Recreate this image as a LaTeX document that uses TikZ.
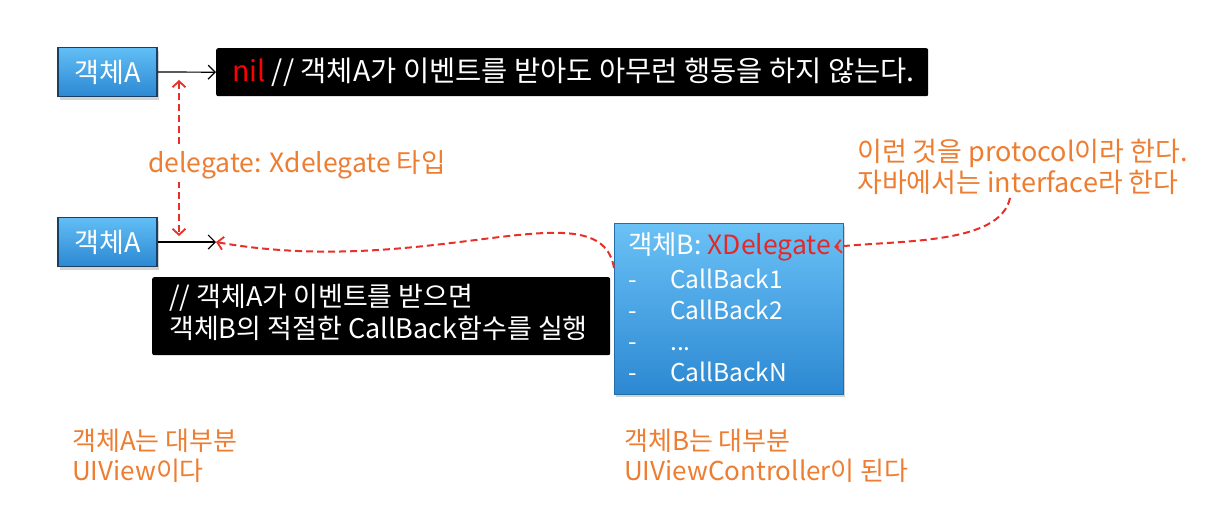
\documentclass[tikz,border=0pt]{standalone}
\usepackage{fontspec}
\setmainfont{Noto Sans CJK KR}
\usetikzlibrary{arrows.meta,shadows,calc}
\definecolor{orangetxt}{HTML}{ED7D31}
\definecolor{redline}{HTML}{E8302A}
\definecolor{redtxt}{HTML}{E02A2A}
\definecolor{bluetop}{HTML}{62BEF5}
\definecolor{bluebot}{HTML}{2C88D2}
\definecolor{blueedge}{HTML}{1B3F62}
\tikzset{
  objbox/.style={rectangle, minimum width=99pt, minimum height=49pt, top color=bluetop, bottom color=bluebot, draw=blueedge, line width=1.8pt, text=white, font=\fontsize{27}{30}\selectfont, drop shadow={shadow xshift=2pt, shadow yshift=-3pt, opacity=0.35}},
  bigbox/.style={rectangle, anchor=north west, minimum width=229pt, minimum height=171pt, top color=bluetop!95!white, bottom color=bluebot, draw=bluebot!80!black, line width=0.8pt, drop shadow={shadow xshift=2pt, shadow yshift=-3pt, opacity=0.35}},
  blackbox/.style={rectangle, anchor=north west, fill=black, rounded corners=2pt, text=white, inner sep=0pt},
  wtxt/.style={text=white, anchor=west, inner sep=0pt, font=\fontsize{27}{30}\selectfont},
  otxt/.style={text=orangetxt, anchor=west, inner sep=0pt, align=left, font=\fontsize{26.5}{31}\selectfont},
  blackarrow/.style={draw=black, line width=1.2pt, -{Straight Barb[length=7pt,width=14pt,line width=1.2pt]}},
  redarrow/.style={draw=redline, line width=2pt, dash pattern=on 7pt off 4pt, -{Straight Barb[length=6pt,width=13pt,line width=1.8pt]}},
}
\begin{document}
\begin{tikzpicture}[x=1pt,y=-1pt]
\useasboundingbox (0,0) rectangle (1214,530);

% top row
\node[objbox] (a1) at (107.5,72) {객체A};
\node[blackbox, minimum width=712pt, minimum height=48pt] (n1) at (216,48) {};
\node[wtxt, font=\fontsize{28.5}{30}\selectfont] (n1t) at (232,72) {\textcolor{red}{nil} // 객체A가 이벤트를 받아도 아무런 행동을 하지 않는다.};
\draw[blackarrow] (a1.east) -- (n1.west);

% second row
\node[objbox] (a2) at (107.5,242) {객체A};
\coordinate (a2end) at (216,242);
\draw[blackarrow] (a2.east) -- (a2end);

% delegate double arrow
\coordinate (d1) at (179,80);
\coordinate (d2) at (179,236);
\draw[redarrow, {Straight Barb[length=6pt,width=13pt,line width=1.8pt]}-{Straight Barb[length=6pt,width=13pt,line width=1.8pt]}] (d1) -- (d2);
\node[otxt, fill=white, inner sep=3pt] (dlab) at (145,165) {delegate: Xdelegate 타입};

% black comment box
\node[blackbox, minimum width=458pt, minimum height=78pt] (n2) at (152,277) {};
\node[wtxt, align=left, font=\fontsize{27}{32}\selectfont, anchor=north west] (n2t) at (169,284) {// 객체A가 이벤트를 받으면\\객체B의 적절한 CallBack함수를 실행};

% object B
\node[bigbox] (b) at (614,223) {};
\node[wtxt, font=\fontsize{26.5}{30}\selectfont] (bhead) at (628,247) {객체B: \textcolor{redtxt}{XDelegate}};
\node[wtxt, anchor=north west, align=left, font=\fontsize{24.5}{31}\selectfont] (blist) at (628,269) {\makebox[42pt][l]{-}CallBack1\\\makebox[42pt][l]{-}CallBack2\\\makebox[42pt][l]{-}...\\\makebox[42pt][l]{-}CallBackN};

% curved callback arrow
\coordinate (bstart) at ($(b.north west)+(0,45)$);
\draw[redarrow] (bstart) .. controls (600,185) and (430,280) .. (a2end);

% protocol text
\node[otxt, font=\fontsize{27}{31}\selectfont] (proto) at (857,167) {이런 것을 protocol이라 한다.\\자바에서는 interface라 한다};
\coordinate (pstart) at (1010,198);
\draw[redarrow] (pstart) .. controls (1000,245) and (900,240) .. ($(bhead.east)+(3,0)$);

% bottom notes
\node[otxt, font=\fontsize{26}{30}\selectfont] (noteA) at (72,456) {객체A는 대부분\\UIView이다};
\node[otxt, font=\fontsize{26}{30}\selectfont] (noteB) at (624,456) {객체B는 대부분\\UIViewController이 된다};
\end{tikzpicture}
\end{document}
